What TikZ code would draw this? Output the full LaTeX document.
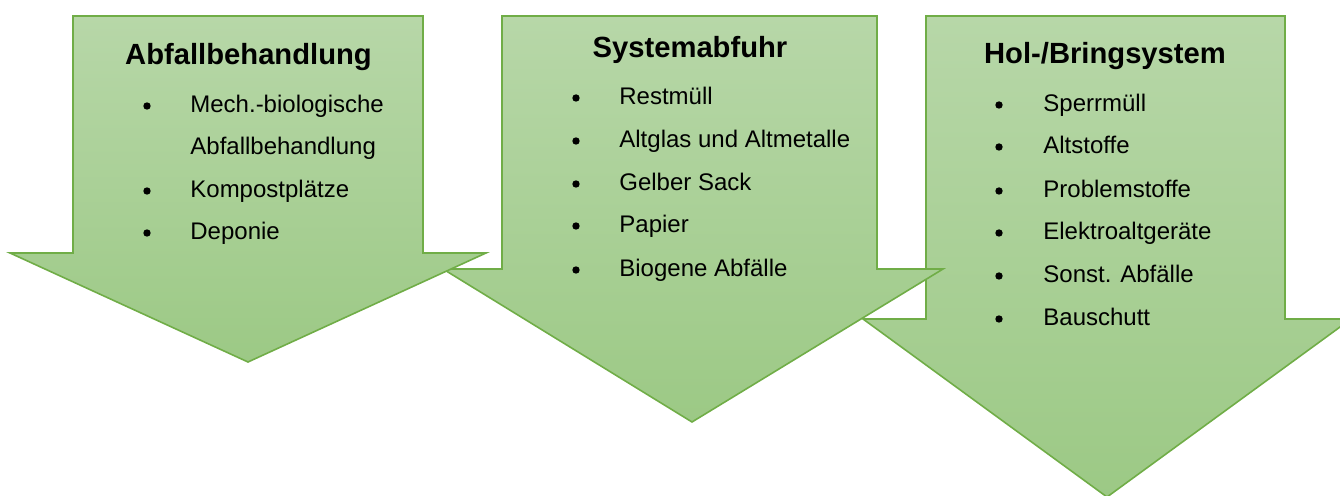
\documentclass[tikz,border=0pt]{standalone}
\usepackage{fontspec}
\setmainfont{Liberation Sans}
\begin{document}
\begin{tikzpicture}[x=0.5pt,y=-0.5pt,
  arrowshape/.style={draw=arrowline, line width=0.8pt, line join=miter, top color=arrowtop, bottom color=arrowbot},
  title/.style={anchor=base, inner sep=0pt, font=\fontsize{14.6}{17}\selectfont\bfseries},
  item/.style={anchor=base west, inner sep=0pt, font=\fontsize{12}{14}\selectfont},
  bul/.style={circle, fill=black, inner sep=0pt, minimum size=3.7pt, yshift=3.5pt}]
\definecolor{arrowline}{RGB}{112,173,71}
\definecolor{arrowtop}{RGB}{183,215,168}
\definecolor{arrowbot}{RGB}{156,201,133}
\useasboundingbox (0,0) rectangle (1340,496);
\clip (0,0) rectangle (1340,496);
% arrows (drawn right to left so the left one lies on top)
\path[arrowshape] (926,16) -- (1285,16) -- (1285,319) -- (1351,319) -- (1107,497) -- (863,319) -- (926,319) -- cycle;
\path[arrowshape] (502,16) -- (877,16) -- (877,269) -- (943,269) -- (692,422) -- (443,269) -- (502,269) -- cycle;
\path[arrowshape] (73,16) -- (423,16) -- (423,253) -- (486,253) -- (248,362) -- (10,253) -- (73,253) -- cycle;
% arrow 1 text
\node[title] (t1) at (248.5,65) {Abfallbehandlung};
\node[bul] (b11) at (147,113) {};
\node[item] (i11) at (190,113) {Mech.-biologische};
\node[item] (i12) at (190,155) {Abfallbehandlung};
\node[bul] (b13) at (147,198) {};
\node[item] (i13) at (190,198) {Kompostplätze};
\node[bul] (b14) at (147,240) {};
\node[item] (i14) at (190,240) {Deponie};
% arrow 2 text
\node[title] (t2) at (690,58) {Systemabfuhr};
\node[bul] (b21) at (576,105) {};
\node[item] (i21) at (619,105) {Restmüll};
\node[bul] (b22) at (576,148) {};
\node[item] (i22) at (619,148) {Altglas und Altmetalle};
\node[bul] (b23) at (576,191) {};
\node[item] (i23) at (619,191) {Gelber Sack};
\node[bul] (b24) at (576,233) {};
\node[item] (i24) at (619,233) {Papier};
\node[bul] (b25) at (576,277) {};
\node[item] (i25) at (619,277) {Biogene Abfälle};
% arrow 3 text
\node[title] (t3) at (1105,64) {Hol-/Bringsystem};
\node[bul] (b31) at (999,112) {};
\node[item] (i31) at (1043,112) {Sperrmüll};
\node[bul] (b32) at (999,154) {};
\node[item] (i32) at (1043,154) {Altstoffe};
\node[bul] (b33) at (999,198) {};
\node[item] (i33) at (1043,198) {Problemstoffe};
\node[bul] (b34) at (999,240) {};
\node[item] (i34) at (1043,240) {Elektroaltgeräte};
\node[bul] (b35) at (999,283) {};
\node[item] (i35) at (1043,283) {Sonst. Abfälle};
\node[bul] (b36) at (999,326) {};
\node[item] (i36) at (1043,326) {Bauschutt};
\end{tikzpicture}
\end{document}
